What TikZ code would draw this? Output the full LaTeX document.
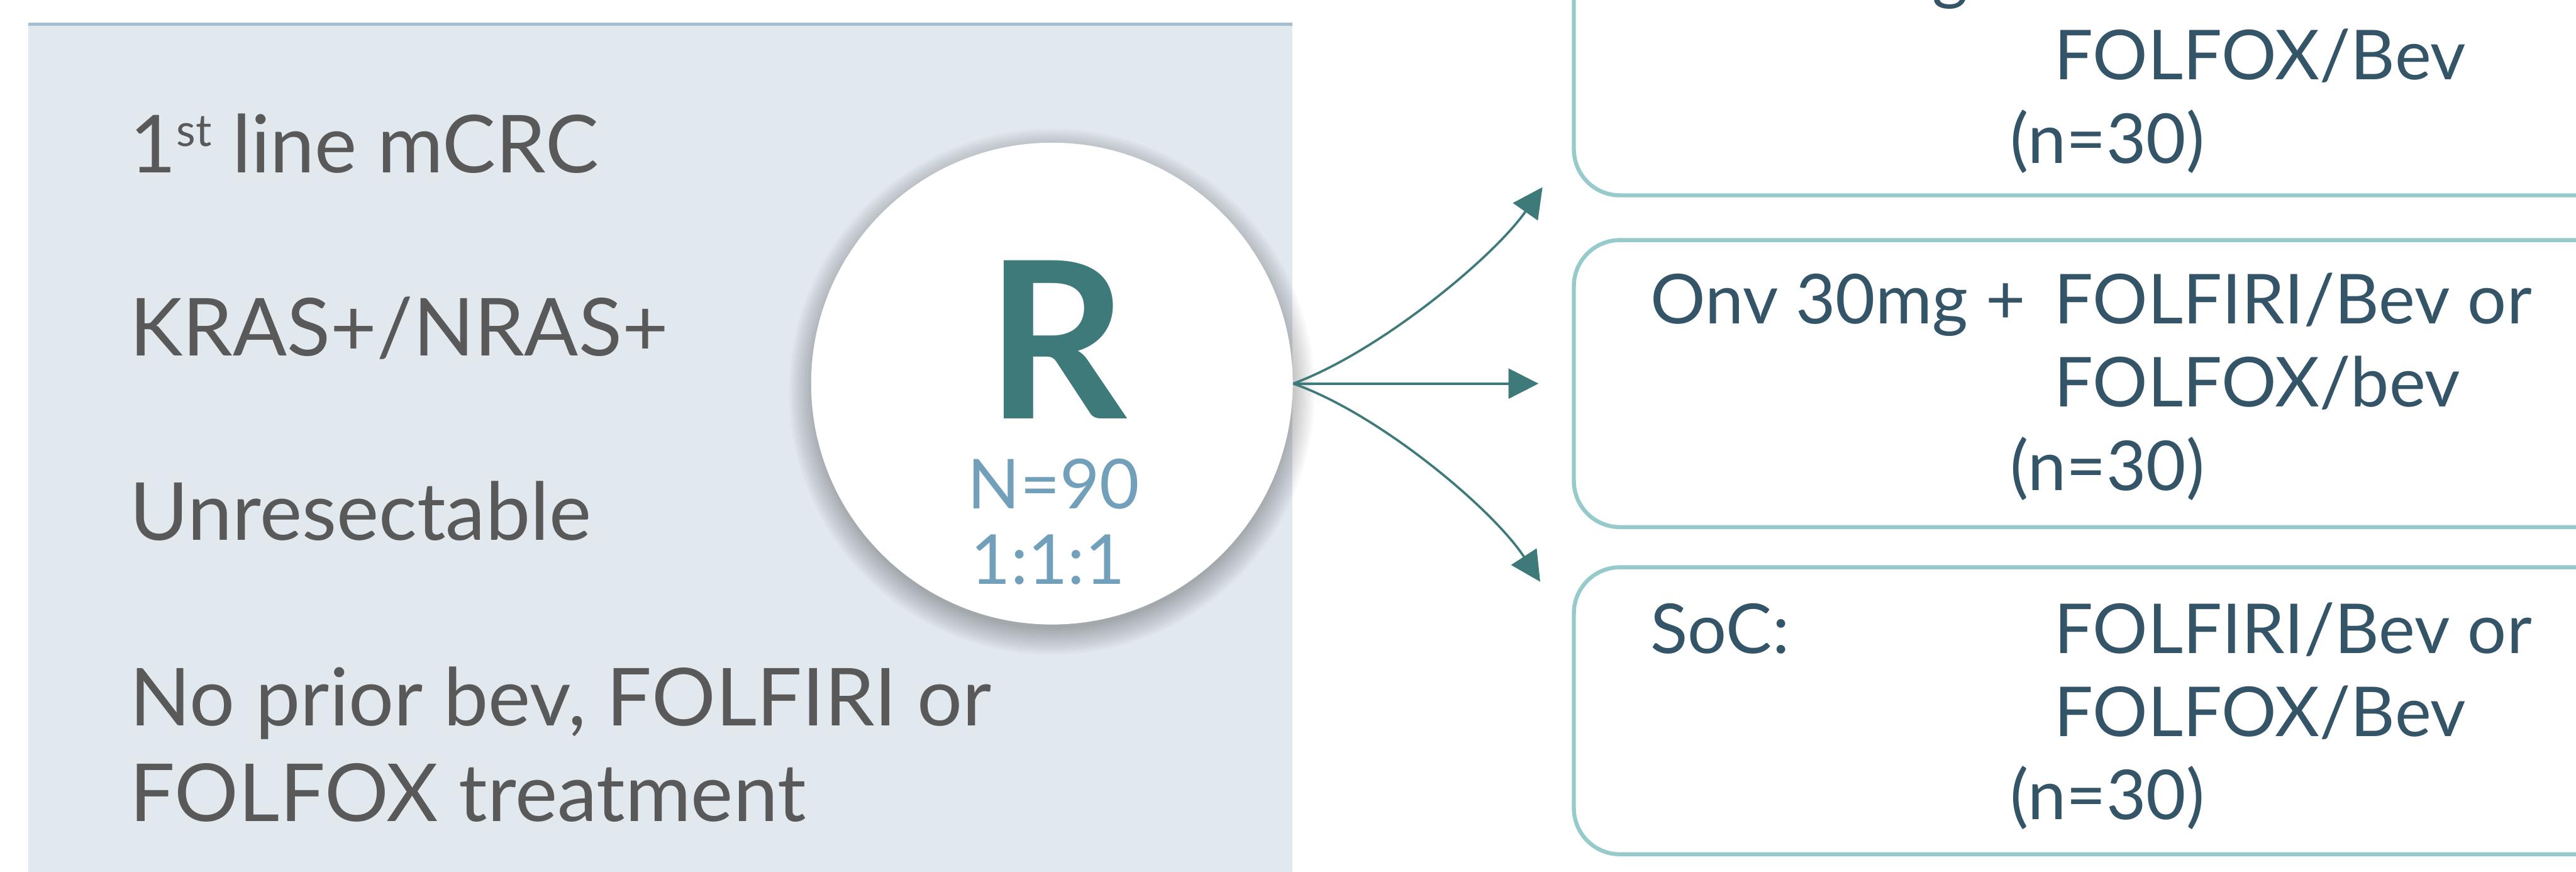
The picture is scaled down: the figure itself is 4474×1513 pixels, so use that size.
\documentclass[tikz,border=0pt]{standalone}
\usepackage{fontspec}
\setmainfont{Lato}
\usepackage{tikz}
\usetikzlibrary{arrows.meta}
\definecolor{panelblue}{HTML}{E1E8EE}
\definecolor{panelrule}{HTML}{A3BED0}
\definecolor{critgray}{HTML}{595959}
\definecolor{rteal}{HTML}{3E7A79}
\definecolor{nblue}{HTML}{72A0BA}
\definecolor{armline}{HTML}{96CACB}
\definecolor{armtext}{HTML}{345468}

\tikzset{
	crit/.style={anchor=base west, inner sep=0pt, text=critgray, font=\fontsize{39.5}{46}\selectfont},
	armtxt/.style={anchor=base west, inner sep=0pt, text=armtext, font=\fontsize{34}{40}\selectfont},
	armbox/.style={draw=armline, line width=0.07cm, rounded corners=0.8cm, inner sep=0pt,
		minimum width=18.66cm, minimum height=4.98cm},
	randarrow/.style={draw=rteal, line width=0.04cm, -{Triangle[length=5.2mm,width=5.2mm]}},
}

\begin{document}
\begin{tikzpicture}[x=0.01cm,y=-0.01cm]
		\useasboundingbox (0,0) rectangle (4474,1513);
		\clip (0,0) rectangle (4474,1513);
		\fill[white] (0,0) rectangle (4474,1513);

		% eligibility panel
		\fill[panelblue] (49,40) rectangle (2245,1520);
		\draw[panelrule, line width=0.05cm] (49,42) -- (2245,42);
		\node[crit] (c1) at (225,300) {1\raisebox{13pt}{\fontsize{22}{22}\selectfont st} line mCRC};
		\node[crit] (c2) at (225,618) {KRAS+/NRAS+};
		\node[crit] (c3) at (225,938) {Unresectable};
		\node[crit] (c4) at (225,1260) {No prior bev, FOLFIRI or};
		\node[crit] (c5) at (225,1426) {FOLFOX treatment};

		% randomisation
		\foreach \k in {0,...,11}
			\fill[black, fill opacity=0.024] (1827,680) circle[radius=4.12cm+\k*0.04cm];
		\node[circle, fill=white, minimum size=8.36cm, inner sep=0pt] (rnd) at (1827,666) {};
		\node[anchor=base, inner sep=0pt, text=rteal, font=\fontsize{108}{108}\selectfont\bfseries] (rlet) at (1835,727) {R};
		\node[anchor=base, inner sep=0pt, text=nblue, font=\fontsize{34}{40}\selectfont] (ntot) at (1830,883) {N=90};
		\node[anchor=base, inner sep=0pt, text=nblue, font=\fontsize{34}{40}\selectfont] (ratio) at (1820,1014) {1:1:1};

		% arms
		\node[armbox] (arm1) at (3667,90) {};
		\node[armbox] (arm2) at (3667,666) {};
		\node[armbox] (arm3) at (3667,1234) {};

		\node[armtxt] (a1l) at (2866,-6) {Onv 20mg +};
		\node[armtxt] (a1r) at (3567,-6) {FOLFIRI/Bev or};
		\node[armtxt] (a1m) at (3567,138) {FOLFOX/Bev};
		\node[armtxt, anchor=base] (a1n) at (3660,283) {(n=30)};

		\node[armtxt] (a2l) at (2866,562) {Onv 30mg +};
		\node[armtxt] (a2r) at (3567,562) {FOLFIRI/Bev or};
		\node[armtxt] (a2m) at (3567,706) {FOLFOX/bev};
		\node[armtxt, anchor=base] (a2n) at (3660,851) {(n=30)};

		\node[armtxt] (a3l) at (2866,1134) {SoC:};
		\node[armtxt] (a3r) at (3567,1134) {FOLFIRI/Bev or};
		\node[armtxt] (a3m) at (3567,1278) {FOLFOX/Bev};
		\node[armtxt, anchor=base] (a3n) at (3660,1423) {(n=30)};

		\coordinate (t1) at (2679,325);
		\coordinate (t2) at (2672,666);
		\coordinate (t3) at (2675,1010);
		\draw[randarrow] (rnd.east) .. controls (2395,611) and (2593,448) .. (t1);
		\draw[randarrow] (rnd.east) -- (t2);
		\draw[randarrow] (rnd.east) .. controls (2395,718) and (2593,884) .. (t3);
\end{tikzpicture}
\end{document}
